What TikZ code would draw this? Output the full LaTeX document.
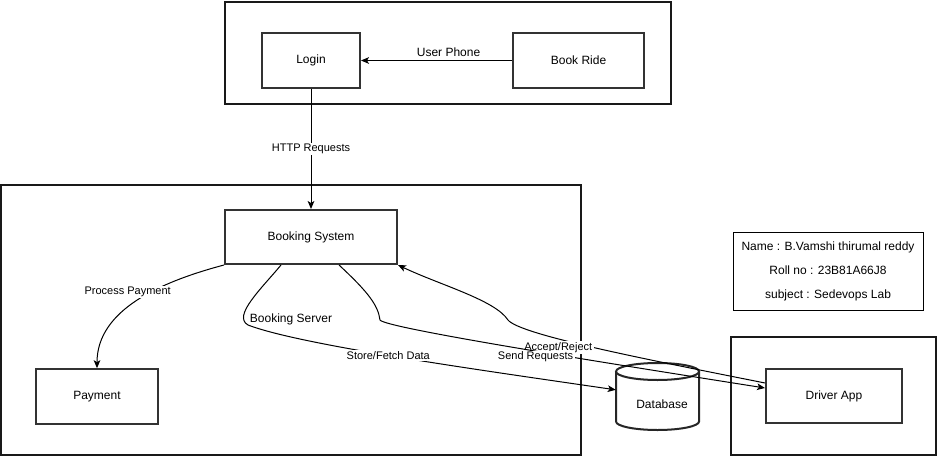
\documentclass[tikz,border=0pt]{standalone}
\usepackage{fontspec}
\setmainfont{Liberation Sans}
\usetikzlibrary{arrows.meta}

\begin{document}
\begin{tikzpicture}[x=0.75pt,y=-0.75pt,
  box/.style={draw=black!80,line width=1.5pt,minimum height=41pt,inner sep=0pt,font=\fontsize{9}{11}\selectfont},
  outerbox/.style={draw=black!90,line width=1.5pt},
  lbl/.style={fill=white,inner sep=1pt,font=\fontsize{8.25}{10}\selectfont},
  txt/.style={inner sep=1pt,font=\fontsize{9}{11}\selectfont},
  con/.style={line width=0.75pt,-{Stealth[length=6pt,width=5pt,inset=1.5pt]}}]
\useasboundingbox (0,0) rectangle (937,456);
% containers
\draw[outerbox] (225,2) rectangle (671,104);
\draw[outerbox] (1,185) rectangle (581,455);
\draw[outerbox] (731,337) rectangle (936,455);
% nodes
\node[box,minimum width=73.5pt] (login) at (311,60.5) {Login};
\node[box,minimum width=98.25pt] (bookride) at (578.5,60.5) {Book Ride};
\node[box,minimum width=129pt,minimum height=40.5pt] (booksys) at (311,237) {Booking System};
\node[box,minimum width=91.5pt] (payment) at (97,396.5) {Payment};
\node[box,minimum width=102pt,minimum height=40.5pt] (driver) at (834,396) {Driver App};
\node[txt] (srvlabel) at (291,319) {Booking Server};
\node[draw,line width=0.75pt,minimum width=142.5pt,minimum height=58.5pt,align=center,
  font=\fontsize{9}{18}\selectfont] (info) at (828,271)
  {Name : B.Vamshi thirumal reddy\\Roll no : 23B81A66J8\\subject : Sedevops Lab};
% database
\node[minimum width=62.25pt,minimum height=50.25pt,inner sep=0pt] (db) at (657.5,396.5) {};
\draw[draw=black!85,line width=1.5pt,fill=white] (616,371.5) -- (616,421.5)
  arc[start angle=180,end angle=360,x radius=31.125pt,y radius=6.375pt] -- (699,371.5);
\draw[draw=black!85,line width=1.5pt] (657.5,371.5) ellipse[x radius=31.125pt,y radius=6.375pt];
\node[txt] (dbtext) at (662,404) {Database};
% connectors
\draw[con] (bookride) -- node[txt,pos=0.42,above=1.5pt] {User Phone} (login);
\draw[con] (login) -- node[lbl] {HTTP Requests} (booksys);
\draw[con] (booksys.south west) .. controls (160,282) and (97,310) .. (payment.north)
  node[lbl,pos=0.4,xshift=-18pt] {Process Payment};
\draw[con] ([xshift=-22.5pt]booksys.south) .. controls (262,288) and (232,316) .. (248,325)
  .. controls (300,345) and (480,370) .. ([yshift=5pt]db.west) node[lbl,pos=0.47] {Store/Fetch Data};
\draw[con] ([yshift=9.75pt]driver.west) .. controls (650,360) and (520,335) .. (508,320)
  node[lbl,pos=0.65,yshift=-6.5pt] {Accept/Reject}
  .. controls (495,300) and (440,285) .. (booksys.south east);
\draw[con] ([xshift=21pt]booksys.south) .. controls (368,292) and (378,305) .. (380,320)
  .. controls (385,328) and (600,362) .. ([yshift=6pt]driver.west)
  node[lbl,pos=0.55,yshift=-4.5pt] {Send Requests};
\end{tikzpicture}
\end{document}
